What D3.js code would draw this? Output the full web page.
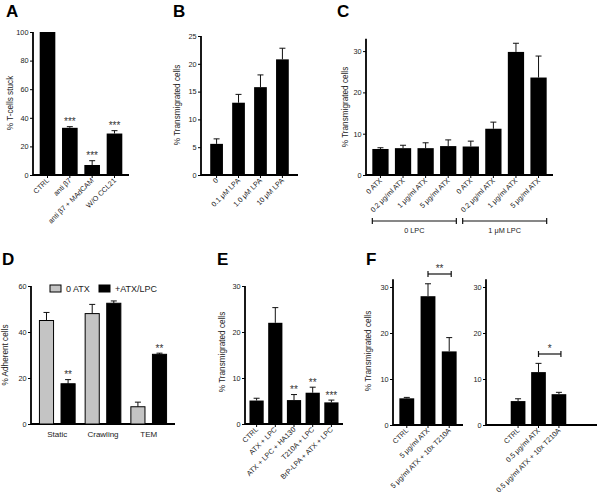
<!DOCTYPE html>
<html><head><meta charset="utf-8">
<script src="https://cdn.jsdelivr.net/npm/d3@7"></script>
<style>body{margin:0;background:#fff;}svg{display:block;font-family:"Liberation Sans",Arial,sans-serif;}</style>
</head><body>
<svg id="chart" width="600" height="493"></svg>
<script>
// ---- DATA ----
const aCategories = ["CTRL", "anti β7", "anti β7 + MAdCAM", "W/O CCL21"];
const aValues = [100, 33, 7, 29];
const aErrors = [0, 0.8, 3, 2];
const aStars = ["", "***", "***", "***"];
const aTicks = [0, 20, 40, 60, 80, 100];

const bCategories = ["0", "0.1 μM LPA", "1.0 μM LPA", "10 μM LPA"];
const bValues = [5.6, 13.0, 15.8, 20.8];
const bErrors = [0.9, 1.5, 2.2, 2.0];
const bTicks = [0, 5, 10, 15, 20, 25];

const cCategories = ["0 ATX", "0.2 μg/ml ATX", "1 μg/ml ATX", "5 μg/ml ATX", "0 ATX", "0.2 μg/ml ATX", "1 μg/ml ATX", "5 μg/ml ATX"];
const cValues = [6.3, 6.5, 6.5, 7.0, 6.9, 11.2, 29.8, 23.6];
const cErrors = [0.3, 0.7, 1.3, 1.5, 1.3, 1.6, 2.1, 5.2];
const cGroups = ["0 LPC", "1 μM LPC"];
const cTicks = [0, 10, 20, 30];

const dCategories = ["Static", "Crawling", "TEM"];
const dSeries = ["0 ATX", "+ATX/LPC"];
const dValues0 = [45, 48, 7.5];
const dErrors0 = [3.5, 4, 2];
const dValues1 = [17.5, 52.5, 30.3];
const dErrors1 = [1.8, 1, 0.5];
const dStars1 = ["**", "", "**"];
const dTicks = [0, 20, 40, 60];

const eCategories = ["CTRL", "ATX + LPC", "ATX + LPC + HA130", "T210A + LPC", "BrP-LPA + ATX + LPC"];
const eValues = [5.1, 22.0, 5.2, 6.8, 4.7];
const eErrors = [0.5, 3.3, 1.2, 1.2, 0.5];
const eStars = ["", "", "**", "**", "***"];
const eTicks = [0, 10, 20, 30];

const f1Categories = ["CTRL", "5 μg/ml ATX", "5 μg/ml ATX + 10x T210A"];
const f1Values = [5.8, 28.0, 16.0];
const f1Errors = [0.2, 2.7, 3.0];
const f2Categories = ["CTRL", "0.5 μg/ml ATX", "0.5 μg/ml ATX + 10x T210A"];
const f2Values = [5.2, 11.5, 6.7];
const f2Errors = [0.5, 1.9, 0.4];
const fTicks = [0, 10, 20, 30];

// ---- DRAWING ----
const svg = d3.select("#chart");
const TXT = "#222";

function panelLetter(t, x, y) {
  svg.append("text").attr("x", x).attr("y", y).text(t)
    .attr("font-size", 17).attr("font-weight", "bold").attr("fill", "#000");
}
function yLabel(t, x, y) {
  svg.append("text").attr("transform", `translate(${x},${y}) rotate(-90)`)
    .attr("text-anchor", "middle").attr("font-size", 8.2).attr("fill", TXT).text(t);
}

function yAxis(g, y, ticks, x0) {
  const ax = d3.axisLeft(y).tickValues(ticks).tickSize(3).tickPadding(1.5).tickSizeOuter(0);
  const a = g.append("g").attr("transform", `translate(${x0},0)`).call(ax);
  a.select(".domain").attr("stroke", "#000").attr("stroke-width", 1.8);
  a.selectAll(".tick line").attr("stroke", "#000").attr("stroke-width", 1);
  a.selectAll(".tick text").attr("font-size", 7.3).attr("fill", TXT)
    .attr("font-family", "Liberation Sans, Arial, sans-serif");
  return a;
}

function errBar(g, cx, yTop, yEnd, cap) {
  g.append("line").attr("x1", cx).attr("x2", cx).attr("y1", yTop).attr("y2", yEnd)
    .attr("stroke", "#111").attr("stroke-width", 1);
  g.append("line").attr("x1", cx - cap / 2).attr("x2", cx + cap / 2).attr("y1", yEnd).attr("y2", yEnd)
    .attr("stroke", "#111").attr("stroke-width", 1);
}

function starText(g, cx, yTop, label) {
  g.append("text").attr("x", cx).attr("y", yTop - 1.5)
    .attr("text-anchor", "middle").attr("font-size", 10).attr("fill", "#333").text(label);
}

function barPanel(o) {
  const g = svg.append("g");
  const y = d3.scaleLinear().domain([0, o.ymax]).range([o.y0, o.y0 - o.ymax * o.pxPerUnit]);
  const x = d3.scaleBand().domain(d3.range(o.cats.length)).range(o.xr).padding(o.pad);
  g.append("line").attr("x1", o.ax0).attr("x2", o.ax1).attr("y1", o.y0).attr("y2", o.y0)
    .attr("stroke", "#000").attr("stroke-width", 1.8);
  o.vals.forEach((v, i) => {
    const cx = x(i) + x.bandwidth() / 2;
    if (o.errs[i] > 0) errBar(g, cx, y(v), y(v + o.errs[i]), 6);
    g.append("rect").attr("x", x(i)).attr("width", x.bandwidth())
      .attr("y", y(v)).attr("height", o.y0 - y(v)).attr("fill", "#000");
    g.append("line").attr("x1", cx).attr("x2", cx).attr("y1", o.y0).attr("y2", o.y0 + 3)
      .attr("stroke", "#000").attr("stroke-width", 1);
    g.append("text").attr("transform", `translate(${cx + 2},${o.y0 + 6}) rotate(-45)`)
      .attr("text-anchor", "end").attr("font-size", 7.2).attr("fill", TXT).text(o.cats[i]);
    if (o.stars && o.stars[i]) starText(g, cx, y(v + o.errs[i]), o.stars[i]);
  });
  yAxis(g, y, o.ticks, o.ax0).select(".domain").attr("d", `M0,${o.y0}V${y(o.ymax)}`);
  return { g, x, y };
}

function bracket(x1, x2, yy, h) {
  const g = svg.append("g").attr("stroke", "#111").attr("stroke-width", 1.2);
  g.append("line").attr("x1", x1).attr("x2", x2).attr("y1", yy).attr("y2", yy);
  g.append("line").attr("x1", x1).attr("x2", x1).attr("y1", yy - h).attr("y2", yy + h);
  g.append("line").attr("x1", x2).attr("x2", x2).attr("y1", yy - h).attr("y2", yy + h);
}

// Panel A
panelLetter("A", 6, 17);
barPanel({ cats: aCategories, vals: aValues, errs: aErrors, stars: aStars, ticks: aTicks,
  ymax: 100, y0: 175, pxPerUnit: 1.43, xr: [33, 129], pad: 0.3, ax0: 33, ax1: 129 });
yLabel("% T-cells stuck", 13, 103);

// Panel B
panelLetter("B", 173, 17);
barPanel({ cats: bCategories, vals: bValues, errs: bErrors, ticks: bTicks,
  ymax: 25, y0: 175, pxPerUnit: 5.56, xr: [201, 298], pad: 0.42, ax0: 201, ax1: 298 });
yLabel("% Transmigrated cells", 180, 105);

// Panel C
panelLetter("C", 337, 17);
const pc = barPanel({ cats: cCategories, vals: cValues, errs: cErrors, ticks: cTicks,
  ymax: 33, y0: 175, pxPerUnit: 4.13, xr: [366, 553], pad: 0.28, ax0: 366, ax1: 553 });
yLabel("% Transmigrated cells", 348, 107);
[[0, 3], [4, 7]].forEach((r, k) => {
  const x1 = pc.x(r[0]), x2 = pc.x(r[1]) + pc.x.bandwidth();
  bracket(x1, x2, 221, 3);
  svg.append("text").attr("x", (x1 + x2) / 2).attr("y", 233).attr("text-anchor", "middle")
    .attr("font-size", 7.3).attr("fill", TXT).text(cGroups[k]);
});

// Panel D
panelLetter("D", 2, 265);
{
  const g = svg.append("g");
  const y0 = 424, ppu = 2.3, ymax = 60;
  const y = d3.scaleLinear().domain([0, ymax]).range([y0, y0 - ymax * ppu]);
  const x = d3.scaleBand().domain(d3.range(dCategories.length)).range([31, 175]).padding(0.15);
  const xi = d3.scaleBand().domain([0, 1]).range([0, x.bandwidth()]).paddingInner(0.3).paddingOuter(0.05);
  g.append("line").attr("x1", 31).attr("x2", 175).attr("y1", y0).attr("y2", y0)
    .attr("stroke", "#000").attr("stroke-width", 1.8);
  const series = [[dValues0, dErrors0, "#c4c4c4"], [dValues1, dErrors1, "#000"]];
  dCategories.forEach((c, i) => {
    series.forEach((s, j) => {
      const v = s[0][i], e = s[1][i];
      const bx = x(i) + xi(j), cx = bx + xi.bandwidth() / 2;
      errBar(g, cx, y(v), y(v + e), 6);
      g.append("rect").attr("x", bx + 0.5).attr("width", xi.bandwidth() - 1)
        .attr("y", y(v)).attr("height", y0 - y(v)).attr("fill", s[2])
        .attr("stroke", "#000").attr("stroke-width", 1);
      if (j === 1 && dStars1[i]) starText(g, cx, y(v + e), dStars1[i]);
    });
    g.append("text").attr("x", x(i) + x.bandwidth() / 2).attr("y", 437).attr("text-anchor", "middle")
      .attr("font-size", 8).attr("fill", TXT).text(c);
  });
  yAxis(g, y, dTicks, 31).select(".domain").attr("d", `M0,${y0}V${y(ymax)}`);
  const lg = svg.append("g");
  const legX = [50, 99];
  dSeries.forEach((s, j) => {
    lg.append("rect").attr("x", legX[j]).attr("y", 285).attr("width", 11).attr("height", 7)
      .attr("fill", series[j][2]).attr("stroke", "#000").attr("stroke-width", 1);
    lg.append("text").attr("x", legX[j] + 16).attr("y", 292).attr("font-size", 9)
      .attr("fill", TXT).text(s);
  });
}
yLabel("% Adherent cells", 8, 355);

// Panel E
panelLetter("E", 217, 265);
barPanel({ cats: eCategories, vals: eValues, errs: eErrors, stars: eStars, ticks: eTicks,
  ymax: 30, y0: 424, pxPerUnit: 4.6, xr: [245, 343], pad: 0.24, ax0: 245, ax1: 343 });
yLabel("% Transmigrated cells", 225, 352);

// Panel F
panelLetter("F", 366, 265);
const pf1 = barPanel({ cats: f1Categories, vals: f1Values, errs: f1Errors, ticks: fTicks,
  ymax: 31.7, y0: 425, pxPerUnit: 4.6, xr: [393, 463], pad: 0.3, ax0: 393, ax1: 463 });
const pf2 = barPanel({ cats: f2Categories, vals: f2Values, errs: f2Errors, ticks: fTicks,
  ymax: 31.7, y0: 425, pxPerUnit: 4.6, xr: [505, 572], pad: 0.28, ax0: 486, ax1: 597 });
yLabel("% Transmigrated cells", 371, 351);
function sigBracket(p, i1, i2, yy, label) {
  const c1 = p.x(i1) + p.x.bandwidth() / 2, c2 = p.x(i2) + p.x.bandwidth() / 2 + 2;
  bracket(c1, c2, yy, 3);
  svg.append("text").attr("x", (c1 + c2) / 2).attr("y", yy - 2).attr("text-anchor", "middle")
    .attr("font-size", 10).attr("fill", "#333").text(label);
}
sigBracket(pf1, 1, 2, 274, "**");
sigBracket(pf2, 1, 2, 354, "*");
</script>
</body></html>
